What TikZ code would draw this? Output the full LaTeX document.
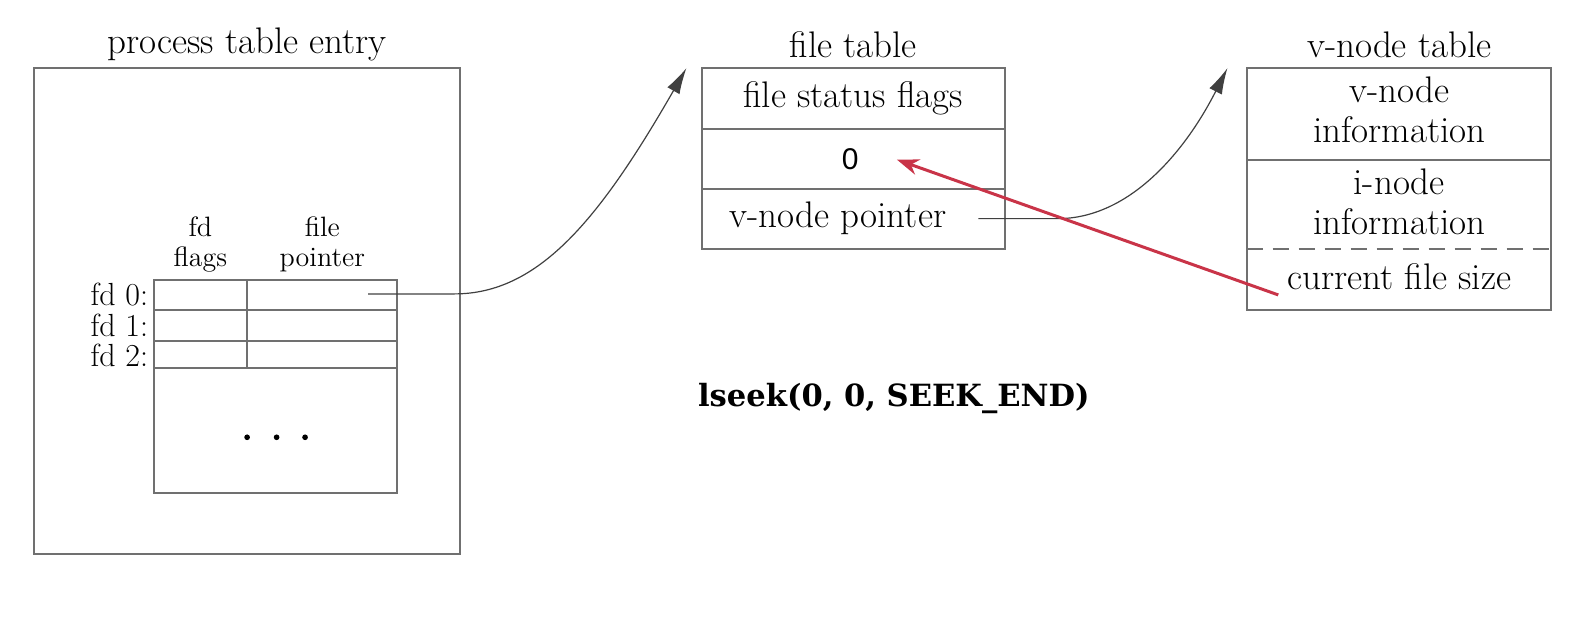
\documentclass[tikz,border=0pt]{standalone}
\usepackage{fontspec}
\usepackage{xcolor}
\usepackage{tikz}
\usetikzlibrary{arrows.meta}
\newfontfamily\slabfont{DejaVu Serif}
\newfontfamily\plainsans{Liberation Sans}
\definecolor{framegray}{RGB}{112,112,112}
\definecolor{seekred}{RGB}{201,52,72}
\tikzset{
  frame/.style={draw=framegray, line width=1pt},
  lbl/.style={inner sep=0pt, font=\fontsize{18.5}{20}\selectfont, align=center},
  small lbl/.style={inner sep=0pt, anchor=base, font=\fontsize{14}{12}\selectfont},
  fd lbl/.style={inner sep=0pt, anchor=east, font=\fontsize{16}{18}\selectfont},
  ptr/.style={draw=black!75, line width=0.6pt, -{Latex[length=13pt,width=7pt]}},
  seek ptr/.style={draw=seekred, line width=1.5pt, -{Stealth[length=11pt,width=8pt]}},
}

\begin{document}
\begin{tikzpicture}[x=0.5085pt,y=-0.5085pt]
    \useasboundingbox (0,0) rectangle (1567.5,617.5);
    % process table entry
    \node[lbl] (proctitle) at (243,44) {process table entry};
    \draw[frame] (33,67) rectangle (452,545);
    \draw[frame] (151,275) rectangle (390,485);
    \draw[frame] (151,305) -- (390,305) (151,335) -- (390,335) (151,362) -- (390,362);
    \draw[frame] (243,275) -- (243,362);
    \node[small lbl] (fdname) at (197,233) {fd};
    \node[small lbl] (fdflags) at (197,262) {flags};
    \node[small lbl] (fpfile) at (317,233) {file};
    \node[small lbl] (fpptr) at (317,262) {pointer};
    \node[fd lbl] (fd0) at (146,290) {fd 0:};
    \node[fd lbl] (fd1) at (146,320) {fd 1:};
    \node[fd lbl] (fd2) at (146,349) {fd 2:};
    \foreach \x in {243,272,300}
        \fill (\x,430) circle (2.8);
    \coordinate (fd0from) at (362,289);
    \coordinate (fd0bend) at (447,289);

    % file table
    \node[lbl] (ftitle) at (839,44) {file table};
    \draw[frame] (690,67) rectangle (988,245);
    \draw[frame] (690,127) -- (988,127) (690,186) -- (988,186);
    \node[lbl] (fstatus) at (839,97) {file status flags};
    \node[inner sep=0pt, font=\plainsans\fontsize{15}{18}\selectfont] (foffset) at (836,157) {0};
    \node[lbl] (fvptr) at (824,215) {v-node pointer};
    \coordinate (ftabtip) at (675,67);
    \coordinate (vfrom) at (962,215);
    \coordinate (vbend) at (1040,215);
    \coordinate (offto) at (882,157);

    % v-node table
    \node[lbl] (vtitle) at (1376,44) {v-node table};
    \draw[frame] (1226,67) rectangle (1525,305);
    \draw[frame] (1226,157) -- (1525,157);
    \draw[frame, dashed, dash pattern=on 8pt off 5pt] (1226,245) -- (1525,245);
    \node[lbl] (vinfo) at (1376,108) {v-node\\information};
    \node[lbl] (iinfo) at (1376,198) {i-node\\information};
    \node[lbl] (cursize) at (1376,272) {current file size};
    \coordinate (vtabtip) at (1207,67);
    \coordinate (sizefrom) at (1257,290);

    % pointers
    \draw[ptr] (fd0from) -- (fd0bend) .. controls (530,289) and (590,215) .. (ftabtip);
    \draw[ptr] (vfrom) -- (vbend) .. controls (1110,215) and (1165,150) .. (vtabtip);
    \draw[seek ptr] (sizefrom) -- (offto);

    \node[inner sep=0pt, anchor=base, font=\slabfont\bfseries\fontsize{15.3}{18}\selectfont] (lseek) at (879,400) {lseek(0, 0, SEEK\_END)};
\end{tikzpicture}
\end{document}
